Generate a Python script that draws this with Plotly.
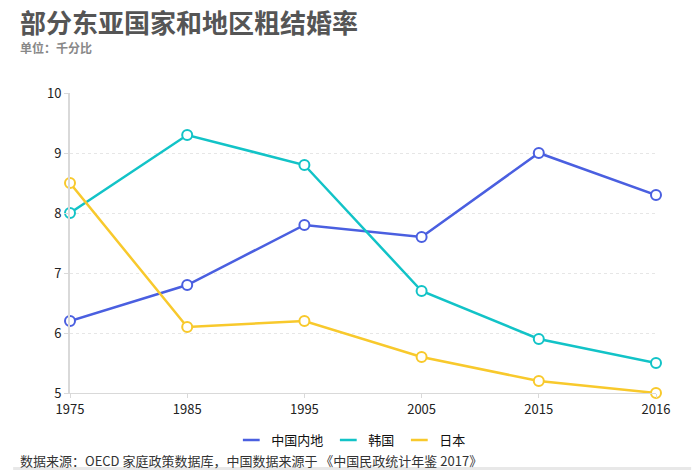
import plotly.graph_objects as go

years = ["1975", "1985", "1995", "2005", "2015", "2016"]
mainland = [6.2, 6.8, 7.8, 7.6, 9.0, 8.3]
korea = [8.0, 9.3, 8.8, 6.7, 5.9, 5.5]
japan = [8.5, 6.1, 6.2, 5.6, 5.2, 5.0]

names = ["中国内地", "韩国", "日本"]
colors = ["#4a5fe0", "#12c3c7", "#f8c92c"]
series = [mainland, korea, japan]

FONT = "Noto Sans CJK SC"
fig = go.Figure()
for name, col, vals in zip(names, colors, series):
    fig.add_trace(go.Scatter(
        x=years, y=vals, mode="lines+markers", name=name, showlegend=False,
        line=dict(color=col, width=2.5),
        marker=dict(size=10, color="white", line=dict(color=col, width=2)),
        cliponaxis=False,
    ))
for name, col in zip(names, colors):
    fig.add_trace(go.Scatter(
        x=[None], y=[None], mode="markers", name=name,
        marker=dict(symbol="line-ew", size=12, color=col, line=dict(color=col, width=2.5)),
    ))

fig.update_layout(
    width=700, height=470,
    margin=dict(l=70, r=44, t=93, b=77),
    paper_bgcolor="white", plot_bgcolor="white",
    font=dict(family=FONT, size=13, color="#222"),
    showlegend=True,
    legend=dict(orientation="h", x=0.48, xanchor="center", xref="paper",
                y=-0.157, yanchor="middle", font=dict(size=13, color="#111"),
                itemwidth=30, tracegroupgap=0),
    xaxis=dict(type="category", range=[0, 5], showgrid=False,
               showline=True, linecolor="#d9d9d9", linewidth=1,
               ticks="outside", ticklen=4, tickcolor="#d9d9d9",
               tickfont=dict(size=13, color="#222")),
    yaxis=dict(range=[5, 10], dtick=1, showgrid=True, gridcolor="#e6e6e6",
               griddash="dot", zeroline=False,
               showline=True, linecolor="#d9d9d9", linewidth=2,
               ticks="outside", ticklen=4, tickcolor="#d9d9d9",
               tickfont=dict(size=13, color="#222")),
)

fig.add_annotation(text="<b>部分东亚国家和地区粗结婚率</b>", xref="paper", yref="paper",
                   x=-0.088, y=1.237, xanchor="left", yanchor="middle", showarrow=False,
                   font=dict(family=FONT, size=26, color="#555555"))
fig.add_annotation(text="<b>单位：千分比</b>", xref="paper", yref="paper",
                   x=-0.088, y=1.153, xanchor="left", yanchor="middle", showarrow=False,
                   font=dict(family=FONT, size=12, color="#888888"))
fig.add_annotation(text="数据来源：OECD 家庭政策数据库，中国数据来源于 《中国民政统计年鉴 2017》",
                   xref="paper", yref="paper", x=-0.088, y=-0.225,
                   xanchor="left", yanchor="middle", showarrow=False,
                   font=dict(family=FONT, size=13, color="#333333"))
fig.add_shape(type="rect", xref="paper", yref="paper", x0=-0.097, x1=1.06,
              y0=-0.257, y1=-0.247, fillcolor="#e8e8e8", line=dict(width=0), layer="below")

fig.write_html("out.html")
